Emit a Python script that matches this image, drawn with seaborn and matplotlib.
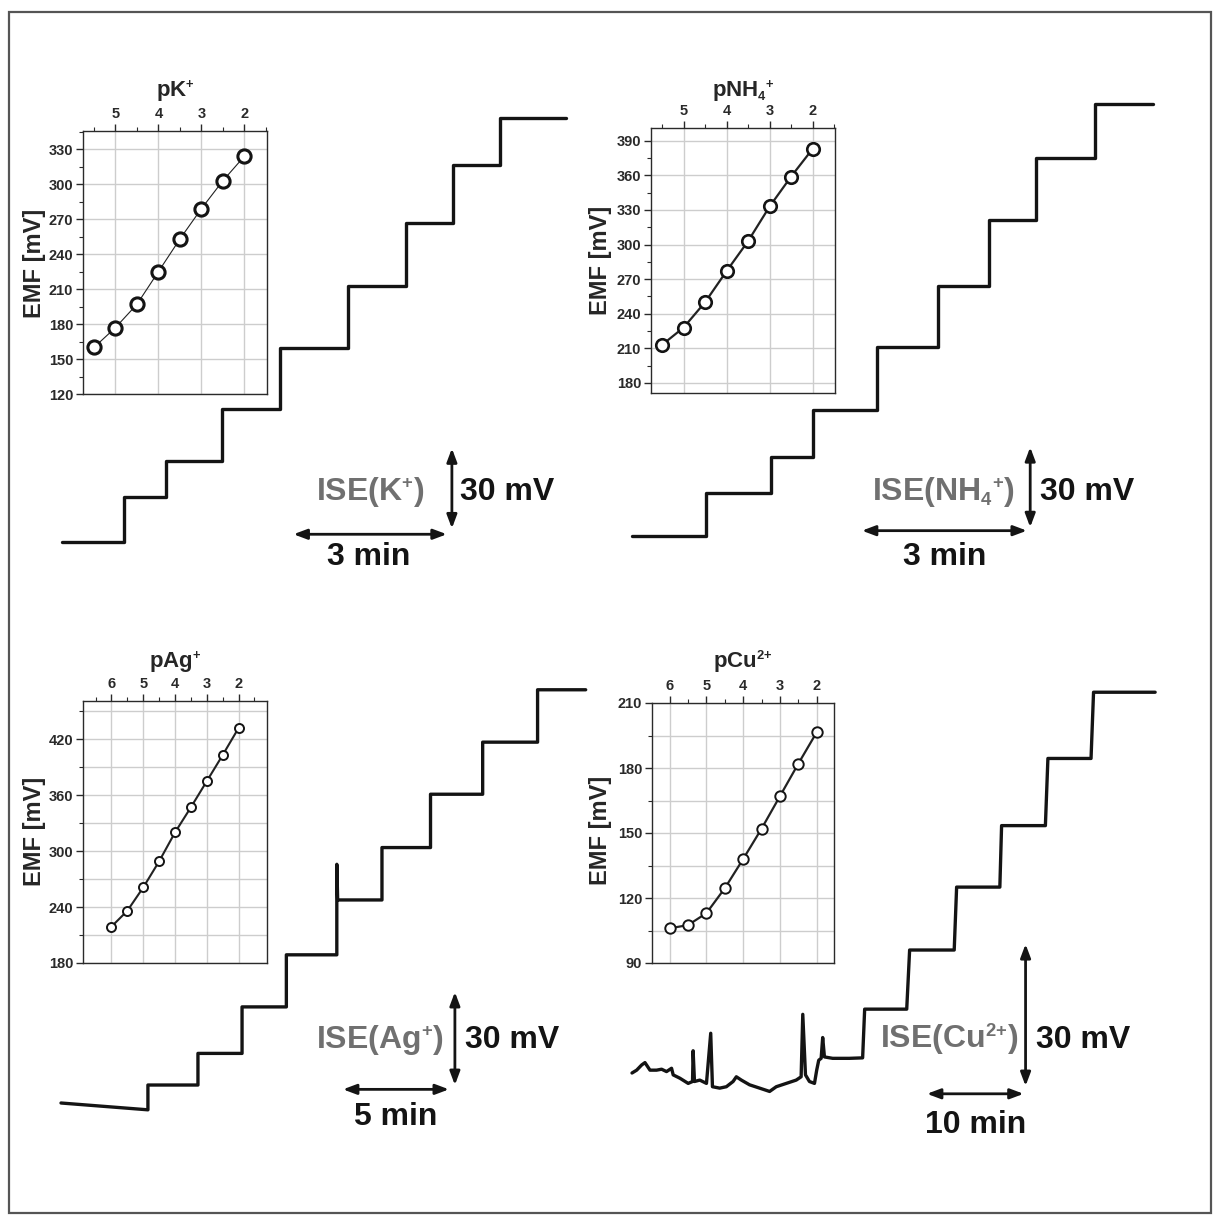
import matplotlib
matplotlib.use("Agg")
import matplotlib.pyplot as plt
import matplotlib._mathtext as mathtext_internals
from matplotlib.ticker import MultipleLocator
from matplotlib.patches import Rectangle
import seaborn as sns

W, H = 1218, 1222

# calibration curves shown in the insets (p-value, EMF in mV)
K_P = [5.5, 5.0, 4.5, 4.0, 3.5, 3.0, 2.5, 2.0]
K_EMF = [160, 177, 197, 225, 253, 279, 303, 324]

NH4_P = [5.5, 5.0, 4.5, 4.0, 3.5, 3.0, 2.5, 2.0]
NH4_EMF = [213, 228, 250, 277, 303, 333, 359, 383]

AG_P = [6.0, 5.5, 5.0, 4.5, 4.0, 3.5, 3.0, 2.5, 2.0]
AG_EMF = [219, 236, 261, 289, 320, 347, 375, 403, 432]

CU_P = [6.0, 5.5, 5.0, 4.5, 4.0, 3.5, 3.0, 2.5, 2.0]
CU_EMF = [106, 107.5, 113, 124.5, 138, 152, 167, 182, 196.5]

# time traces: start, step times and end [min], plateau levels [mV, relative]
K_STEP_T = [0, 1.21, 2.04, 3.13, 4.27, 5.60, 6.73, 7.65, 8.57, 9.86]
K_LEVEL = [0, 16.9, 30.4, 49.9, 72.7, 96.0, 119.6, 141.4, 159.0]

NH4_STEP_T = [0, 1.35, 2.53, 3.29, 4.45, 5.56, 6.49, 7.35, 8.42, 9.47]
NH4_LEVEL = [0, 16.1, 29.6, 47.2, 70.9, 93.7, 118.5, 141.7, 162.0]

AG_T = [0.0, 4.10, 4.10, 6.46, 6.46, 8.54, 8.54, 10.63, 10.63, 13.01, 13.01,
        13.05, 15.14, 15.14, 17.43, 17.43, 19.89, 19.89, 22.48, 22.48, 24.75]
AG_MV = [0.0, -2.2, 5.8, 5.8, 16.0, 16.0, 31.0, 31.0, 47.8, 47.8, 77.0,
         65.5, 65.5, 82.4, 82.4, 99.6, 99.6, 116.4, 116.4, 133.3, 133.3]

CU_T = [0.0, 0.48, 1.0, 1.34, 1.86, 2.54, 3.06, 3.57, 4.09, 4.26,
        4.95, 5.81, 6.26, 6.32, 6.46, 7.01, 7.7, 8.14, 8.32, 9.07,
        9.76, 10.45, 10.79, 11.31, 12.16, 13.2, 14.23, 14.92, 15.95, 16.98,
        17.49, 17.66, 17.94, 18.35, 18.87, 19.1, 19.31, 19.56, 19.72, 19.9,
        20.75, 22.47, 23.85, 24.06, 28.41, 28.71, 33.32, 33.57, 38.04, 38.22,
        42.75, 43.01, 47.47, 47.73, 54.1]
CU_MV = [0.0, 0.6, 1.7, 2.2, 0.6, 0.6, 0.8, 0.3, 1.0, -0.4,
         -1.1, -2.2, -1.8, 4.7, -1.8, -1.5, -2.2, 8.4, -2.9, -3.2,
         -2.9, -1.8, -0.8, -1.5, -2.5, -3.2, -3.9, -2.9, -2.2, -1.5,
         -0.8, 12.4, -0.4, -1.8, -2.2, 0.6, 2.7, 3.1, 7.5, 3.4,
         3.1, 3.1, 3.2, 13.5, 13.5, 26.0, 26.0, 39.3, 39.3, 52.3,
         52.3, 66.5, 66.5, 80.5, 80.5]

sns.set_style("white")
plt.rcParams["font.family"] = ["Liberation Sans", "DejaVu Sans"]
plt.rcParams["font.weight"] = "bold"
plt.rcParams["mathtext.fontset"] = "custom"
plt.rcParams["mathtext.rm"] = "Liberation Sans:bold"
plt.rcParams["mathtext.it"] = "Liberation Sans:bold"
plt.rcParams["mathtext.bf"] = "Liberation Sans:bold"
# smaller super/subscripts, like the original figure
mathtext_internals.SHRINK_FACTOR = 0.58

INK = "#141414"
GREY = "#707070"

fig = plt.figure(figsize=(W / 100, H / 100), dpi=100)
fig.patch.set_facecolor("white")


def px_axes(x0, y0, x1, y1):
    return fig.add_axes([x0 / W, 1 - y1 / H, (x1 - x0) / W, (y1 - y0) / H])


def px_text(x, y, s, **kw):
    fig.text(x / W, 1 - y / H, s, **kw)


def steps(t, lv):
    x, y = [t[0]], [lv[0]]
    for i in range(1, len(lv)):
        x += [t[i], t[i]]
        y += [lv[i - 1], lv[i]]
    x.append(t[-1])
    y.append(lv[-1])
    return x, y


def trace_axes(box, origin, px_min, px_mv):
    x0, y0, x1, y1 = box
    ox, oy = origin
    ax = px_axes(x0, y0, x1, y1)
    ax.set_xlim((x0 - ox) / px_min, (x1 - ox) / px_min)
    ax.set_ylim((oy - y1) / px_mv, (oy - y0) / px_mv)
    ax.axis("off")
    ax.patch.set_visible(False)
    return ax


def arrow(ax, a, b):
    ax.annotate("", xy=b, xytext=a,
                arrowprops=dict(arrowstyle="<|-|>,head_length=0.8,head_width=0.3",
                                lw=2, color=INK, shrinkA=0, shrinkB=0))


def trace_panel(ax, t, mv, ise, tmin, hbar, vbar, ise_xy, mv_x, min_xy):
    sns.lineplot(x=t, y=mv, ax=ax, sort=False, estimator=None,
                 color=INK, linewidth=2.4)
    arrow(ax, (hbar[0], hbar[2]), (hbar[1], hbar[2]))
    arrow(ax, (vbar[0], vbar[1]), (vbar[0], vbar[2]))
    ax.text(*ise_xy, ise, color=GREY, fontsize=23, ha="center", va="center")
    ax.text(mv_x, ise_xy[1], "30 mV", color=INK, fontsize=23, ha="left", va="center")
    ax.text(*min_xy, tmin, color=INK, fontsize=23, ha="center", va="center")


def inset(box, p, emf, xlim, ylim, ymajor, yminor, ygrid_minor, lw, ms, mew):
    ax = px_axes(*box)
    ax.set_facecolor("white")
    sns.lineplot(x=p, y=emf, ax=ax, color="#222222", linewidth=lw, marker="o",
                 markersize=ms, markerfacecolor="white", markeredgecolor=INK,
                 markeredgewidth=mew, zorder=3)
    ax.set_xlim(*xlim)
    ax.set_ylim(*ylim)
    ax.xaxis.set_major_locator(MultipleLocator(1))
    ax.xaxis.set_minor_locator(MultipleLocator(0.5))
    ax.yaxis.set_major_locator(MultipleLocator(ymajor))
    ax.yaxis.set_minor_locator(MultipleLocator(yminor))
    ax.tick_params(axis="x", which="both", top=True, bottom=False,
                   labeltop=True, labelbottom=False)
    ax.tick_params(axis="y", which="both", left=True, right=False)
    ax.tick_params(which="both", direction="out", colors="#2a2a2a",
                   labelsize=10.5, pad=2)
    ax.tick_params(which="major", length=5, width=1)
    ax.tick_params(which="minor", length=3, width=0.8)
    ax.grid(True, which="major", color="#cdcdcd", linewidth=1)
    if ygrid_minor:
        ax.yaxis.grid(True, which="minor", color="#cdcdcd", linewidth=1)
    ax.set_axisbelow(True)
    for s in ax.spines.values():
        s.set_color("#2a2a2a")
        s.set_linewidth(1)
    ax.set_xlabel("")
    ax.set_ylabel("")
    return ax


# ---- traces (drawn first, insets on top)
ax = trace_axes((30, 80, 600, 600), (62, 542), 51.1, 2.667)
x, y = steps(K_STEP_T, K_LEVEL)
trace_panel(ax, x, y, "ISE(K$^{+}$)", "3 min", (4.53, 7.53, 2.9), (7.63, 5.1, 35.1),
            (6.03, 18.7), 7.79, (6.01, -5.6))

ax = trace_axes((600, 80, 1180, 600), (632, 536), 55.0, 2.667)
x, y = steps(NH4_STEP_T, NH4_LEVEL)
trace_panel(ax, x, y, "ISE(NH$_{4}{}^{+}$)", "3 min", (4.18, 7.18, 2.0), (7.24, 3.3, 33.3),
            (5.67, 16.5), 7.42, (5.69, -7.9))

ax = trace_axes((30, 650, 600, 1160), (61, 1103), 21.2, 3.1)
trace_panel(ax, AG_T, AG_MV, "ISE(Ag$^{+}$)", "5 min", (13.3, 18.3, 4.4), (18.58, 5.8, 35.8),
            (15.05, 20.3), 19.07, (15.8, -4.5))

ax = trace_axes((600, 650, 1180, 1160), (632, 1073), 9.67, 4.73)
trace_panel(ax, CU_T, CU_MV, "ISE(Cu$^{2{+}}$)", "10 min", (30.5, 40.5, -4.4), (40.7, -2.75, 27.25),
            (32.8, 7.0), 41.75, (35.5, -11.0))

# ---- calibration insets
inset((83, 131, 267, 394), K_P, K_EMF, (5.756, 1.47), (120, 345.8), 30, 15, False, 0.8, 9.5, 2.2)
inset((651, 128, 835, 393), NH4_P, NH4_EMF, (5.758, 1.48), (171.2, 401.1), 30, 15, False, 1.6, 9, 1.9)
inset((83, 701, 267, 963), AG_P, AG_EMF, (6.895, 1.105), (180, 461), 60, 30, True, 1.5, 6.5, 1.4)
inset((652, 703, 834, 963), CU_P, CU_EMF, (6.48, 1.53), (90, 210), 30, 15, True, 1.6, 7.5, 1.4)

px_text(175, 97, "pK$^{+}$", fontsize=16, ha="center", va="baseline")
px_text(743, 97, "pNH$_{4}{}^{+}$", fontsize=16, ha="center", va="baseline")
px_text(175, 668, "pAg$^{+}$", fontsize=16, ha="center", va="baseline")
px_text(743, 668, "pCu$^{2{+}}$", fontsize=16, ha="center", va="baseline")

for xx, yy in [(34, 263), (601, 260), (34, 831), (601, 830)]:
    px_text(xx, yy, "EMF [mV]", fontsize=17, rotation=90, ha="center", va="center")

fig.add_artist(Rectangle((9 / W, 1 - 1213 / H), 1202 / W, 1201 / H,
                         transform=fig.transFigure, fill=False,
                         edgecolor="#555555", linewidth=1.6))

fig.savefig("out.png", dpi=100, facecolor="white")
